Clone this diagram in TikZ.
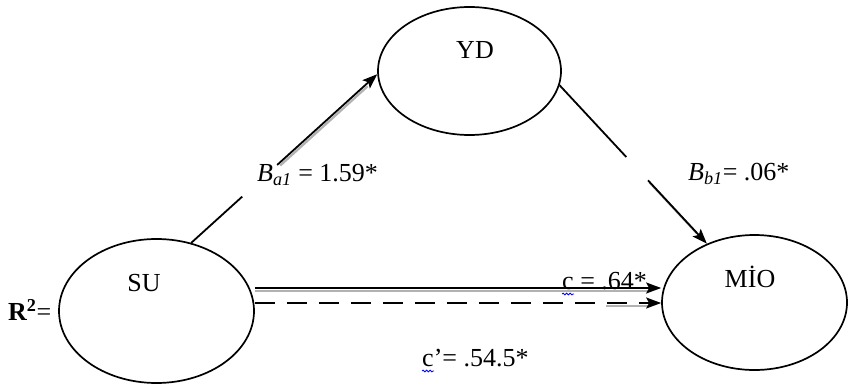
\documentclass[tikz,border=0pt]{standalone}
\usepackage{fontspec}
\setmainfont{Liberation Serif}
\usetikzlibrary{shapes.geometric,arrows.meta,calc,decorations.pathmorphing}
\begin{document}
\begin{tikzpicture}[x=1pt,y=-1pt,
  var/.style={draw,ellipse,line width=1.7pt,inner sep=0pt},
  lbl/.style={font=\fontsize{26}{30}\selectfont,inner sep=0pt},
  conn/.style={line width=1.8pt,-{Stealth[length=15pt,width=11pt,inset=3pt]}},
  plain/.style={line width=1.8pt},
  shade/.style={line width=2.2pt,gray!60},
  wavy/.style={blue,line width=0.8pt,decorate,decoration={snake,amplitude=0.9pt,segment length=3.5pt}}]
\useasboundingbox (0,0) rectangle (848,385);
% variables
\node[var,minimum width=195pt,minimum height=144pt] (SU) at (156.5,311) {};
\node[var,minimum width=183pt,minimum height=128pt] (YD) at (469.5,71) {};
\node[var,minimum width=185pt,minimum height=135pt] (MIO) at (754.5,302.5) {};
\node[lbl] (SUt) at (144,283) {SU};
\node[lbl] (YDt) at (475,50) {YD};
\node[lbl] (MIOt) at (750,277) {MİO};
\node[lbl,anchor=west] (R2) at (8,310) {\textbf{R\textsuperscript{2}}=};
% SU -> YD
\draw[shade] ([shift={(1.5,2)}]$(SU.63)!0.47!(YD.182)$) -- ([shift={(1.5,2)}]$(SU.63)!0.94!(YD.182)$);
\draw[plain] (SU.63) -- ($(SU.63)!0.274!(YD.182)$);
\draw[conn] ($(SU.63)!0.462!(YD.182)$) -- (YD.182);
\node[lbl,anchor=west] (Ba) at (257,175) {\textit{B}\textsubscript{\textit{a1}} = 1.59*};
% YD -> MIO
\draw[shade] ([shift={(1.5,2)}]$(YD.-9)!0.6!(MIO.129)$) -- ([shift={(1.5,2)}]$(YD.-9)!0.92!(MIO.129)$);
\draw[plain] (YD.-9) -- ($(YD.-9)!0.453!(MIO.129)$);
\draw[conn] ($(YD.-9)!0.6!(MIO.129)$) -- (MIO.129);
\node[lbl,anchor=west] (Bb) at (688,174) {\textit{B}\textsubscript{\textit{b1}}= .06*};
% SU -> MIO
\node[lbl,anchor=base west] (cl) at (562,289) {c = .64*};
\draw[wavy] ([yshift=-5pt]cl.base west) -- ++(12,0);
\draw[shade] ([yshift=20pt]SU.east) -- ([xshift=-12pt,yshift=11.5pt]MIO.west);
\draw[conn] ([yshift=23pt]SU.east) -- ([yshift=14.5pt]MIO.west);
\draw[shade] ([xshift=-55pt,yshift=-3.5pt]MIO.west) -- ([xshift=-10pt,yshift=-3.5pt]MIO.west);
\draw[conn,dash pattern=on 20pt off 12pt] ([yshift=8pt]SU.east) -- ([yshift=-0.5pt]MIO.west);
\node[lbl,anchor=base west] (cp) at (422,366) {c'= .54.5*};
\draw[wavy] ([yshift=-5pt]cp.base west) -- ++(12,0);
\end{tikzpicture}
\end{document}
